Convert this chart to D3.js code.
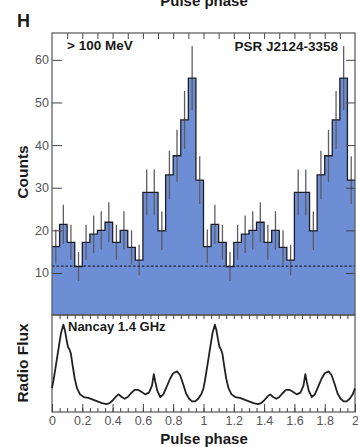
<!DOCTYPE html>
<html>
<head>
<meta charset="utf-8">
<script src="https://cdn.jsdelivr.net/npm/d3@7/dist/d3.min.js"></script>
<style>
  html, body { margin: 0; padding: 0; background: #fff; }
  svg { display: block; }
  text { font-family: "Liberation Sans", Arial, Helvetica, sans-serif; }
</style>
</head>
<body>
<svg id="chart" width="358" height="447"></svg>
<script>
// Gamma-ray light curve (>100 MeV), 20 bins per rotation, shown over two rotations
const binCounts = [16.2, 21.4, 17.2, 11.5, 17.2, 19.1, 20.0, 21.9, 17.2, 20.0,
                   16.0, 13.0, 28.9, 28.9, 19.9, 33.0, 37.5, 45.9, 55.7, 31.8];
const binErrors = [4.0, 4.6, 4.1, 3.4, 4.1, 4.4, 4.5, 4.7, 4.1, 4.5,
                   4.0, 3.6, 5.4, 5.4, 4.5, 5.7, 6.1, 6.8, 7.5, 5.6];
const backgroundLevel = 11.6;
const countTicks = [10, 20, 30, 40, 50, 60];

// Nancay 1.4 GHz radio profile over one rotation (phase, relative flux)
const radioPhase = [0.000, 0.010, 0.025, 0.045, 0.060, 0.075, 0.085, 0.095, 0.105, 0.115,
                    0.125, 0.135, 0.150, 0.165, 0.185, 0.210, 0.240, 0.270, 0.300, 0.330,
                    0.360, 0.380, 0.400, 0.425, 0.440, 0.460, 0.480, 0.500, 0.520, 0.545,
                    0.570, 0.590, 0.615, 0.640, 0.660, 0.672, 0.682, 0.695, 0.715, 0.735,
                    0.755, 0.780, 0.800, 0.825, 0.845, 0.865, 0.885, 0.905, 0.925, 0.945,
                    0.965, 0.985];
const radioFlux  = [0.27, 0.36, 0.52, 0.74, 0.90, 0.99, 0.93, 0.83, 0.74, 0.71,
                    0.66, 0.54, 0.38, 0.27, 0.20, 0.17, 0.16, 0.14, 0.12, 0.10,
                    0.09, 0.10, 0.13, 0.18, 0.20, 0.17, 0.15, 0.17, 0.21, 0.25,
                    0.25, 0.23, 0.20, 0.22, 0.30, 0.43, 0.34, 0.24, 0.17, 0.20,
                    0.28, 0.38, 0.44, 0.46, 0.42, 0.32, 0.21, 0.15, 0.12, 0.12,
                    0.15, 0.20];

const phaseTickValues = [0, 0.2, 0.4, 0.6, 0.8, 1, 1.2, 1.4, 1.6, 1.8, 2];
const phaseTickLabels = ["0", "0.2", "0.4", "0.6", "0.8", "1", "1.2", "1.4", "1.6", "1.8", "2"];

const binWidth = 0.05;
const rotations = 2;

const svg = d3.select("#chart");

// Panel geometry
const L = 52, R = 355, T = 33, M = 315, B = 412;

const x = d3.scaleLinear().domain([0, 2]).range([L, R]);
const yCounts = d3.scaleLinear().domain([0, 66.3]).range([315.6, T]);
const yRadio = d3.scaleLinear().domain([0, 1.1]).range([B, M]);

// Histogram bins across both rotations
const bins = [];
for (let r = 0; r < rotations; r++) {
  binCounts.forEach((c, i) => {
    bins.push({ x0: r + i * binWidth, x1: r + (i + 1) * binWidth, c: c, e: binErrors[i] });
  });
}
const stepPts = bins.map(b => [b.x0, b.c]);
stepPts.push([2, bins[bins.length - 1].c]);

const countsPanel = svg.append("g");

countsPanel.append("path")
  .datum(stepPts)
  .attr("fill", "#6d8dd4")
  .attr("d", d3.area()
    .curve(d3.curveStepAfter)
    .x(d => x(d[0]))
    .y0(M)
    .y1(d => yCounts(d[1])));

// Error bars
countsPanel.selectAll("line.err")
  .data(bins)
  .join("line")
  .attr("class", "err")
  .attr("x1", d => x((d.x0 + d.x1) / 2))
  .attr("x2", d => x((d.x0 + d.x1) / 2))
  .attr("y1", d => yCounts(d.c + d.e))
  .attr("y2", d => yCounts(d.c - d.e))
  .attr("stroke", "#5c5c66")
  .attr("stroke-width", 1.3);

// Step outline
countsPanel.append("path")
  .datum(stepPts)
  .attr("fill", "none")
  .attr("stroke", "#1e1e28")
  .attr("stroke-width", 1.3)
  .attr("d", d3.line()
    .curve(d3.curveStepAfter)
    .x(d => x(d[0]))
    .y(d => yCounts(d[1])));

// Background level
countsPanel.append("line")
  .attr("x1", L).attr("x2", R)
  .attr("y1", yCounts(backgroundLevel)).attr("y2", yCounts(backgroundLevel))
  .attr("stroke", "#1e2440")
  .attr("stroke-width", 1.1)
  .attr("stroke-dasharray", "2.5,2");

// Shared axis styling
const styleAxis = g => {
  g.select(".domain").remove();
  g.selectAll(".tick line").attr("stroke", "#444").attr("stroke-width", 1);
  g.selectAll(".tick text").attr("fill", "#555").attr("font-size", 12.5).attr("font-family", "'Liberation Sans', Arial, sans-serif");
};

svg.append("g")
  .attr("transform", `translate(${L},0)`)
  .call(d3.axisLeft(yCounts).tickValues(countTicks).tickSize(-10).tickPadding(3))
  .call(styleAxis);

svg.append("g")
  .attr("transform", `translate(${R},0)`)
  .call(d3.axisRight(yCounts).tickValues(countTicks).tickSize(-9).tickFormat(""))
  .call(styleAxis);

svg.append("g")
  .attr("transform", `translate(0,${T})`)
  .call(d3.axisTop(x).tickValues(d3.range(1, 20).map(i => i / 10)).tickSize(-6).tickFormat(""))
  .call(styleAxis);

// Panel frames
svg.append("rect")
  .attr("x", L).attr("y", T).attr("width", R - L).attr("height", M - T)
  .attr("fill", "none").attr("stroke", "#555").attr("stroke-width", 1.2);
svg.append("rect")
  .attr("x", L).attr("y", M).attr("width", R - L).attr("height", B - M)
  .attr("fill", "none").attr("stroke", "#555").attr("stroke-width", 1.2);

// Radio profile across both rotations
const radioPts = [];
for (let r = 0; r < rotations; r++) {
  radioPhase.forEach((p, i) => radioPts.push([r + p, radioFlux[i]]));
}
radioPts.push([2, radioFlux[0]]);

svg.append("path")
  .datum(radioPts)
  .attr("fill", "none")
  .attr("stroke", "#222")
  .attr("stroke-width", 1.8)
  .attr("stroke-linejoin", "round")
  .attr("d", d3.line().x(d => x(d[0])).y(d => yRadio(d[1])));

// Radio panel tick marks
const minorPhase = d3.range(1, 40).map(i => i * binWidth);
svg.append("g")
  .attr("transform", `translate(0,${M})`)
  .call(d3.axisBottom(x).tickValues(minorPhase).tickSize(4).tickFormat(""))
  .call(styleAxis);

svg.append("g")
  .attr("transform", `translate(0,${B})`)
  .call(d3.axisBottom(x).tickValues(minorPhase).tickSize(-4).tickFormat(""))
  .call(styleAxis);

svg.append("g")
  .attr("transform", `translate(0,${B})`)
  .call(d3.axisBottom(x).tickValues(phaseTickValues).tickSize(-8).tickPadding(4)
    .tickFormat((d, i) => phaseTickLabels[i]))
  .call(styleAxis);

// Text labels
function label(txt, px, py, size, anchor, rotate) {
  const t = svg.append("text")
    .attr("x", px).attr("y", py)
    .attr("font-size", size)
    .attr("text-anchor", anchor)
    .attr("font-weight", "bold")
    .attr("fill", "#1a1a1a")
    .text(txt);
  if (rotate) t.attr("transform", `rotate(-90,${px},${py})`);
  return t;
}

label("Pulse phase", 204, 6, 15, "middle");
label("H", 17, 27, 18, "start");
label("> 100 MeV", 67, 50, 13.5, "start");
label("PSR J2124-3358", 338, 51, 13.5, "end");
label("Nancay 1.4 GHz", 68, 331, 13, "start");
label("Counts", 28, 172, 15.5, "middle", true);
label("Radio Flux", 28, 363, 15.5, "middle", true);
label("Pulse phase", 204, 444, 15, "middle");
</script>
</body>
</html>
